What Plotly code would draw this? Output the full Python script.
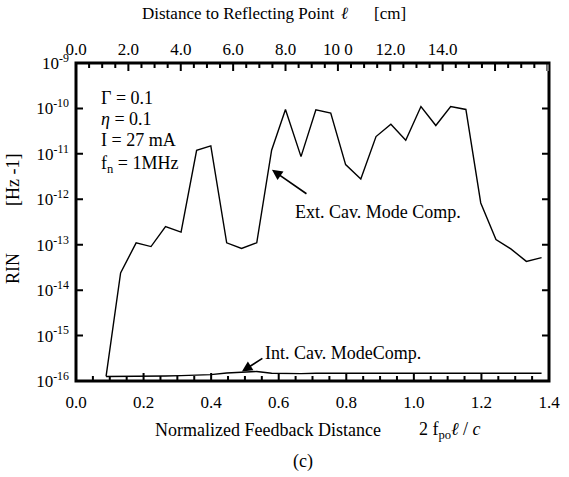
import math
import plotly.graph_objects as go

# ---- data ----
norm_dist = [0.089, 0.132, 0.178, 0.222, 0.265, 0.311, 0.357, 0.399, 0.446, 0.490,
             0.535, 0.579, 0.620, 0.666, 0.710, 0.754, 0.798, 0.843, 0.888, 0.932,
             0.976, 1.021, 1.065, 1.109, 1.154, 1.198, 1.243, 1.287, 1.333, 1.378]
rin_ext = [1.26e-16, 2.4e-14, 1.1e-13, 9.1e-14, 2.5e-13, 1.9e-13, 1.2e-11, 1.5e-11, 1.1e-13, 8.3e-14,
           1.1e-13, 1.2e-11, 9.5e-11, 8.7e-12, 9.3e-11, 7.9e-11, 5.8e-12, 2.8e-12, 2.4e-11, 4.5e-11,
           2.0e-11, 1.1e-10, 4.2e-11, 1.1e-10, 9.5e-11, 8.3e-13, 1.3e-13, 8.1e-14, 4.3e-14, 5.2e-14]
rin_int = [1.26e-16, 1.26e-16, 1.28e-16, 1.29e-16, 1.29e-16, 1.31e-16, 1.34e-16, 1.38e-16, 1.50e-16, 1.58e-16,
           1.62e-16, 1.48e-16, 1.45e-16, 1.45e-16, 1.48e-16, 1.48e-16, 1.49e-16, 1.50e-16, 1.50e-16, 1.51e-16,
           1.51e-16, 1.51e-16, 1.50e-16, 1.50e-16, 1.50e-16, 1.49e-16, 1.48e-16, 1.48e-16, 1.48e-16, 1.48e-16]

y_tickvals = [1e-16, 1e-15, 1e-14, 1e-13, 1e-12, 1e-11, 1e-10, 1e-9]
y_ticktext = ["10<sup>-16</sup>", "10<sup>-15</sup>", "10<sup>-14</sup>", "10<sup>-13</sup>",
              "10<sup>-12</sup>", "10<sup>-11</sup>", "10<sup>-10</sup>", "10<sup>-9</sup>"]
x_tickvals = [0.0, 0.2, 0.4, 0.6, 0.8, 1.0, 1.2, 1.4]
x_ticktext = ["0.0", "0.2", "0.4", "0.6", "0.8", "1.0", "1.2", "1.4"]
top_tickvals = [0, 2, 4, 6, 8, 10, 12, 14, 16]
top_ticktext = ["0.0", "2.0", "4.0", "6.0", "8.0", "10 0", "12.0", "14.0", ""]
CM_PER_UNIT = 18.06 / 1.4   # reflecting-point distance (cm) per unit of normalized distance
dist_cm = [v * CM_PER_UNIT for v in norm_dist]

FONT = "Liberation Serif"
W, H = 569, 477
L, R, T, B = 76, 549, 63, 381
PW, PH = R - L, B - T
X_RANGE = [0, 1.4]
X2_RANGE = [0, 18.06]
Y_RANGE = [-16, -9]


def px(x):
    return (x - L) / PW


def py(y):
    return (B - y) / PH


fig = go.Figure()
fig.add_trace(go.Scatter(x=norm_dist, y=rin_ext, mode="lines",
                         line=dict(color="black", width=1.4), showlegend=False))
fig.add_trace(go.Scatter(x=norm_dist, y=rin_int, mode="lines",
                         line=dict(color="black", width=1.4), showlegend=False))
fig.add_trace(go.Scatter(x=dist_cm, y=rin_ext, mode="lines", xaxis="x2", yaxis="y",
                         line=dict(color="rgba(0,0,0,0)", width=0), showlegend=False,
                         hoverinfo="skip"))

FS = 18
annos = []
for txt, yy in [("Γ = 0.1", 98), ("<i>η</i> = 0.1", 119), ("I = 27 mA", 140),
                ("f<sub>n</sub> = 1MHz", 164)]:
    annos.append(dict(text=txt, x=px(99), y=py(yy), xref="paper", yref="paper",
                      xanchor="left", yanchor="middle", showarrow=False,
                      font=dict(size=FS)))
annos.append(dict(text="", x=0.58, y=-11.35, xref="x", yref="y", ax=36, ay=25,
                  showarrow=True, arrowhead=2, arrowsize=1.3, arrowwidth=1.6,
                  arrowcolor="black"))
annos.append(dict(text="Ext. Cav. Mode Comp.", x=px(293), y=py(212), xref="paper",
                  yref="paper", xanchor="left", yanchor="middle", showarrow=False,
                  font=dict(size=FS)))
annos.append(dict(text="", x=0.491, y=-15.79, xref="x", yref="y", ax=22, ay=-14,
                  showarrow=True, arrowhead=2, arrowsize=1.3, arrowwidth=1.6,
                  arrowcolor="black"))
annos.append(dict(text="Int. Cav. ModeComp.", x=px(263), y=py(353), xref="paper",
                  yref="paper", xanchor="left", yanchor="middle", showarrow=False,
                  font=dict(size=FS)))
annos.append(dict(text="Distance to Reflecting Point", x=px(140), y=py(13), xref="paper",
                  yref="paper", xanchor="left", yanchor="middle", showarrow=False,
                  font=dict(size=17)))
annos.append(dict(text="<i>ℓ</i>", x=px(344), y=py(13), xref="paper",
                  yref="paper", xanchor="center", yanchor="middle", showarrow=False,
                  font=dict(size=17)))
annos.append(dict(text="[cm]", x=px(372), y=py(13), xref="paper",
                  yref="paper", xanchor="left", yanchor="middle", showarrow=False,
                  font=dict(size=17)))
annos.append(dict(text="Normalized Feedback Distance", x=px(153), y=py(430), xref="paper",
                  yref="paper", xanchor="left", yanchor="middle", showarrow=False,
                  font=dict(size=FS)))
annos.append(dict(text="2 f<sub>po</sub><i>ℓ</i> / <i>c</i>", x=px(417), y=py(430), xref="paper",
                  yref="paper", xanchor="left", yanchor="middle", showarrow=False,
                  font=dict(size=FS)))
annos.append(dict(text="(c)", x=px(303), y=py(461), xref="paper",
                  yref="paper", xanchor="center", yanchor="middle", showarrow=False,
                  font=dict(size=FS)))
annos.append(dict(text="RIN", x=px(13), y=py(268), xref="paper",
                  yref="paper", xanchor="center", yanchor="middle", showarrow=False,
                  textangle=-90, font=dict(size=FS)))
annos.append(dict(text="[Hz -1]", x=px(13), y=py(180), xref="paper",
                  yref="paper", xanchor="center", yanchor="middle", showarrow=False,
                  textangle=-90, font=dict(size=FS)))

# ---- frame + tick marks as ONE large filled path shape (paper coords) ----
FW, TW = 3.0, 2.0
MAJ, MIN, YT = 8, 5, 7
hx, hy = FW / 2 / PW, FW / 2 / PH


def rect(x0, x1, y0, y1):
    return "M{:.5f},{:.5f} L{:.5f},{:.5f} L{:.5f},{:.5f} L{:.5f},{:.5f} Z ".format(
        x0, y0, x1, y0, x1, y1, x0, y1)


path = rect(-hx, 1 + hx, -hy, 1 + hy) + rect(hx, 1 - hx, hy, 1 - hy)
tx = TW / 2 / PW
ty = TW / 2 / PH
for i in range(1, 28):                       # bottom: 0.05 steps, major every 0.2
    v = (i * 0.05 - X_RANGE[0]) / (X_RANGE[1] - X_RANGE[0])
    ln = MAJ if i % 4 == 0 else MIN
    path += rect(v - tx, v + tx, hy, ln / PH)
for i in range(1, 37):                       # top: 0.5 cm steps, major every 2 cm
    v = (i * 0.5 - X2_RANGE[0]) / (X2_RANGE[1] - X2_RANGE[0])
    ln = MAJ if i % 4 == 0 else MIN
    path += rect(v - tx, v + tx, 1 - ln / PH, 1 - hy)
for val in y_tickvals[1:-1]:                 # left / right decade ticks
    yp = (math.log10(val) - Y_RANGE[0]) / (Y_RANGE[1] - Y_RANGE[0])
    path += rect(hx, YT / PW, yp - ty, yp + ty)
    path += rect(1 - YT / PW, 1 - hx, yp - ty, yp + ty)

shapes = [dict(type="path", xref="paper", yref="paper", path=path.strip(),
               fillcolor="black", fillrule="evenodd", opacity=1,
               line=dict(width=0), layer="above")]

fig.update_layout(
    template="none",
    width=W, height=H,
    margin=dict(l=L, r=W - R, t=T, b=H - B),
    paper_bgcolor="white", plot_bgcolor="white",
    font=dict(family=FONT, size=17, color="black"),
    annotations=annos,
    shapes=shapes,
    xaxis=dict(range=X_RANGE, tickvals=x_tickvals, ticktext=x_ticktext,
               ticks="", showline=False, showgrid=False, zeroline=False,
               ticklabelstandoff=9),
    xaxis2=dict(range=X2_RANGE, overlaying="x", side="top", anchor="y",
                tickvals=top_tickvals, ticktext=top_ticktext,
                ticks="", showline=False, showgrid=False, zeroline=False,
                ticklabelstandoff=4),
    yaxis=dict(type="log", range=Y_RANGE, tickvals=y_tickvals, ticktext=y_ticktext,
               ticks="", showline=False, showgrid=False, zeroline=False,
               ticklabelstandoff=6),
)

fig.write_html("out.html")
